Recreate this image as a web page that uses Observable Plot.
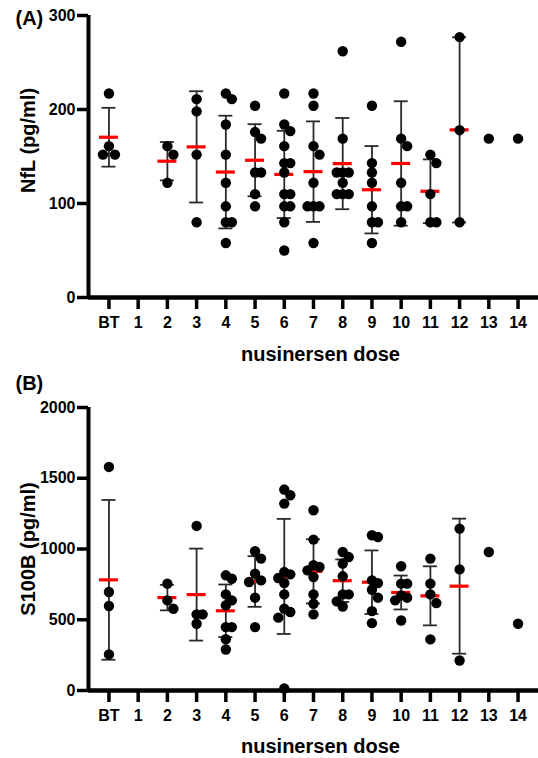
<!DOCTYPE html>
<html>
<head>
<meta charset="utf-8">
<script src="https://cdn.jsdelivr.net/npm/d3@7"></script>
<script src="https://cdn.jsdelivr.net/npm/@observablehq/plot@0.6"></script>
<style>
  body { margin: 0; background: #fff; }
  #chart { width: 538px; }
  #chart svg { display: block; }
</style>
</head>
<body>
<div id="chart"></div>
<script>
// ---- categories / tick labels ----
const doseLabels = ["BT", "1", "2", "3", "4", "5", "6", "7", "8", "9", "10", "11", "12", "13", "14"];
const nflTicks = [0, 100, 200, 300];
const s100bTicks = [0, 500, 1000, 1500, 2000];

// ---- Panel A: NfL (pg/ml) per dose ----
const nflBT = [217, 161, 152, 152];
const nfl1 = [];
const nfl2 = [161, 152, 122];
const nfl3 = [211, 198, 152, 80];
const nfl4 = [217, 211, 184, 152, 122, 97, 80, 80, 58];
const nfl5 = [204, 176, 169, 133, 133, 110, 97];
const nfl6 = [217, 184, 177, 161, 143, 143, 133, 110, 110, 97, 97, 80, 50];
const nfl7 = [217, 204, 161, 152, 122, 97, 97, 97, 58];
const nfl8 = [262, 169, 133, 133, 133, 122, 110, 110, 110];
const nfl9 = [204, 143, 133, 122, 97, 80, 80, 58];
const nfl10 = [272, 169, 161, 122, 97, 97, 80];
const nfl11 = [152, 143, 110, 80, 80];
const nfl12 = [277, 178, 80];
const nfl13 = [169];
const nfl14 = [169];

// ---- Panel B: S100B (pg/ml) per dose ----
const s100bBT = [1580, 696, 597, 255];
const s100b1 = [];
const s100b2 = [755, 637, 578];
const s100b3 = [1163, 538, 538, 472];
const s100b4 = [814, 790, 679, 637, 602, 448, 448, 362, 290];
const s100b5 = [984, 932, 826, 778, 767, 656, 448];
const s100b6 = [1420, 1380, 1321, 837, 821, 795, 760, 679, 578, 555, 515, 14];
const s100b7 = [1274, 1066, 885, 873, 849, 802, 679, 613, 538];
const s100b8 = [979, 943, 897, 807, 679, 679, 630, 594];
const s100b9 = [1097, 1085, 778, 759, 712, 656, 561, 476];
const s100b10 = [878, 755, 755, 672, 656, 637, 495];
const s100b11 = [932, 755, 679, 618, 361];
const s100b12 = [1144, 856, 212];
const s100b13 = [979];
const s100b14 = [472];

const nflGroups = [nflBT, nfl1, nfl2, nfl3, nfl4, nfl5, nfl6, nfl7, nfl8, nfl9, nfl10, nfl11, nfl12, nfl13, nfl14];
const s100bGroups = [s100bBT, s100b1, s100b2, s100b3, s100b4, s100b5, s100b6, s100b7, s100b8, s100b9, s100b10, s100b11, s100b12, s100b13, s100b14];

function panel(cfg) {
  const width = 538, marginLeft = 88, marginRight = 0;
  const xDomain = [-0.7, 14.7];
  const pxPerUnit = (width - marginLeft - marginRight) / (xDomain[1] - xDomain[0]);
  const pxPerVal = (cfg.height - cfg.marginTop - cfg.marginBottom) / cfg.yMax;
  const dots = [], stats = [];
  cfg.groups.forEach((vals, i) => {
    const placed = [];
    [...vals].sort((a, b) => b - a).forEach(v => {
      const py = v * pxPerVal;
      let off = 0;
      for (let k = 0; k < 30; k++) {
        const cand = k === 0 ? 0 : (k % 2 ? 1 : -1) * Math.ceil(k / 2) * 6;
        if (!placed.some(p => Math.abs(p.py - py) < 9 && Math.abs(p.off - cand) < 5.5)) { off = cand; break; }
      }
      placed.push({py, off});
      dots.push({x: i + off / pxPerUnit, y: v});
    });
    if (vals.length > 1) stats.push({i, mean: d3.mean(vals), sd: d3.deviation(vals)});
  });
  const capHalf = 7 / pxPerUnit, meanHalf = 9.5 / pxPerUnit;
  const barColor = "#2a2a2a";
  return Plot.plot({
    width, height: cfg.height,
    marginLeft, marginRight, marginTop: cfg.marginTop, marginBottom: cfg.marginBottom,
    style: {fontFamily: "'Liberation Sans', Arial, sans-serif", fontWeight: "bold", color: "#000", background: "#fff", overflow: "visible"},
    x: {type: "linear", domain: xDomain},
    y: {type: "linear", domain: [0, cfg.yMax]},
    marks: [
      Plot.ruleX(stats, {x: "i", y1: d => d.mean - d.sd, y2: d => d.mean + d.sd, stroke: barColor, strokeWidth: 1.8}),
      Plot.ruleY(stats, {y: d => d.mean - d.sd, x1: d => d.i - capHalf, x2: d => d.i + capHalf, stroke: barColor, strokeWidth: 1.8}),
      Plot.ruleY(stats, {y: d => d.mean + d.sd, x1: d => d.i - capHalf, x2: d => d.i + capHalf, stroke: barColor, strokeWidth: 1.8}),
      Plot.ruleY(stats, {y: "mean", x1: d => d.i - meanHalf, x2: d => d.i + meanHalf, stroke: "#ff0000", strokeWidth: 3.2}),
      Plot.ruleX([xDomain[0]], {stroke: "#000", strokeWidth: 4}),
      Plot.ruleY([0], {stroke: "#000", strokeWidth: 4.5}),
      Plot.axisY({ticks: cfg.yTicks, tickFormat: d => String(d), tickSize: 11, tickPadding: 2, strokeWidth: 3.5, fontSize: 16, label: null}),
      Plot.axisX({ticks: d3.range(doseLabels.length), tickFormat: i => doseLabels[i], tickSize: 12, tickPadding: 7, strokeWidth: 3.5, fontSize: 16, label: null}),
      Plot.dot(dots, {x: "x", y: "y", r: 5.2, fill: "#000", stroke: "none"}),
      Plot.text([cfg.yTitle], {frameAnchor: "left", textAnchor: "middle", lineAnchor: "middle", dx: -60, dy: cfg.yTitleDy, rotate: -90, fontSize: 20, fontWeight: "bold"}),
      Plot.text(["nusinersen dose"], {frameAnchor: "bottom", textAnchor: "middle", lineAnchor: "middle", dx: 7, dy: cfg.xTitleDy, fontSize: 20, fontWeight: "bold"}),
      Plot.text([cfg.tag], {frameAnchor: "top-left", textAnchor: "start", lineAnchor: "middle", dx: -73, dy: cfg.tagDy, fontSize: 20, fontWeight: "bold"})
    ]
  });
}

const chart = document.getElementById("chart");
chart.append(panel({
  groups: nflGroups, yMax: 300, yTicks: nflTicks,
  height: 372, marginTop: 15, marginBottom: 75,
  yTitle: "NfL (pg/ml)", yTitleDy: -16, xTitleDy: 57, tag: "(A)", tagDy: 3
}));
chart.append(panel({
  groups: s100bGroups, yMax: 2000, yTicks: s100bTicks,
  height: 386, marginTop: 35, marginBottom: 68,
  yTitle: "S100B (pg/ml)", yTitleDy: 0, xTitleDy: 56, tag: "(B)", tagDy: -24
}));
</script>
</body>
</html>
